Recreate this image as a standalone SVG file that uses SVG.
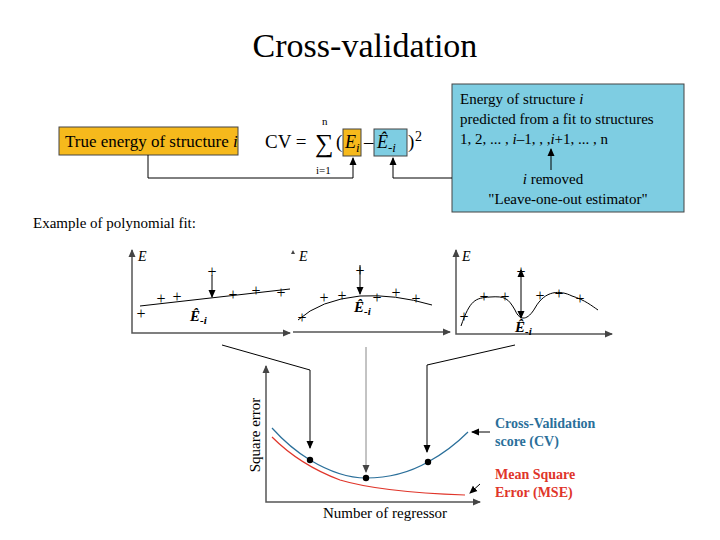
<svg xmlns="http://www.w3.org/2000/svg" width="720" height="540" viewBox="0 0 720 540">
<defs>
<marker id="ah" markerWidth="8" markerHeight="8" refX="7" refY="4" orient="auto-start-reverse" markerUnits="userSpaceOnUse"><path d="M0,0.5 L8,4 L0,7.5 z" fill="#000"/></marker>
<marker id="ag" markerWidth="8" markerHeight="8" refX="7" refY="4" orient="auto-start-reverse" markerUnits="userSpaceOnUse"><path d="M0,0.5 L8,4 L0,7.5 z" fill="#444"/></marker>
<style>
text{font-family:"Liberation Serif","DejaVu Serif",serif;fill:#000}
.ax{stroke:#555;stroke-width:1.5;fill:none}
.c{stroke:#000;stroke-width:1;fill:none}
.lbl{font-size:15px;font-style:italic;font-weight:bold}
.pl{fill:#222}
</style>
</defs>
<rect width="720" height="540" fill="#fff"/>
<text x="365" y="57" font-size="34" text-anchor="middle">Cross-validation</text>

<g id="true-energy">
<rect x="59" y="127" width="179" height="28" fill="#f6b91c" stroke="#444"/>
<text x="65" y="147" font-size="17">True energy of structure <tspan font-style="italic">i</tspan></text>
</g>
<g id="formula">
<text x="265" y="148" font-size="19">CV =</text>
<text x="315" y="152" font-size="26">∑</text>
<text x="322" y="125" font-size="11">n</text>
<text x="316" y="174" font-size="11">i=1</text>
<text x="336" y="148" font-size="19">(</text>
<rect x="343" y="129" width="18" height="27" fill="#f6b91c" stroke="#444"/>
<text x="345" y="148" font-size="18" font-style="italic">E<tspan font-size="13" dy="4">i</tspan></text>
<text x="364" y="148" font-size="19">–</text>
<rect x="374" y="129" width="33" height="27" fill="#7ecde2" stroke="#444"/>
<text x="377" y="148" font-size="18" font-style="italic">Ê<tspan font-size="13" dy="4">-i</tspan></text>
<text x="408" y="148" font-size="19">)</text>
<text x="415" y="141" font-size="14">2</text>
</g>
<g id="loo-box">
<rect x="452" y="84" width="232" height="128" fill="#7ecde2" stroke="#444"/>
<text x="460" y="104" font-size="15">Energy of structure <tspan font-style="italic">i</tspan></text>
<text x="460" y="124" font-size="15">predicted from a fit to structures</text>
<text x="460" y="144" font-size="15">1, 2, ... , <tspan font-style="italic">i</tspan>–1, , ,<tspan font-style="italic">i</tspan>+1, ... , n</text>
<line x1="551" y1="170" x2="551" y2="149" class="c" marker-end="url(#ah)"/>
<text x="553" y="184" font-size="15" text-anchor="middle"><tspan font-style="italic">i</tspan> removed</text>
<text x="568" y="204" font-size="15" text-anchor="middle">"Leave-one-out estimator"</text>
</g>
<g id="connectors">
<polyline points="148,155 148,178 353,178 353,158" class="c" stroke="#555" marker-end="url(#ah)"/>
<polyline points="452,178 393,178 393,158" class="c" stroke="#555" marker-end="url(#ah)"/>
<polyline points="222,345 310,370 310,448" class="c" marker-end="url(#ah)"/>
<line x1="366" y1="347" x2="366" y2="472" stroke="#888" stroke-width="1" marker-end="url(#ag)"/>
<polyline points="515,345 427,365 427,452" class="c" marker-end="url(#ah)"/>
<line x1="490" y1="432" x2="472" y2="432" class="c" marker-end="url(#ah)"/>
<line x1="480" y1="484" x2="470" y2="493" class="c" marker-end="url(#ah)"/>
</g>
<text x="33" y="228" font-size="15">Example of polynomial fit:</text>

<g id="panel1">
<polyline points="132,250 132,333 290,333" class="ax" marker-start="url(#ag)" marker-end="url(#ag)"/>
<text x="138" y="261" font-size="14" font-style="italic">E</text>
<line x1="140" y1="306" x2="290" y2="289" class="c"/>
<line x1="212" y1="275" x2="212" y2="297" class="c" marker-end="url(#ah)"/>
<g font-size="16" text-anchor="middle" class="pl"><text x="212" y="277">+</text><text x="141" y="319">+</text><text x="161" y="304">+</text><text x="177" y="302">+</text><text x="233" y="300">+</text><text x="256" y="296">+</text><text x="281" y="298">+</text></g>
<text x="190" y="321" class="lbl">Ê<tspan font-size="11" dy="3">-i</tspan></text>
</g>
<g id="panel2">
<polyline points="293,332 450,332" class="ax" marker-end="url(#ag)"/>
<path d="M293,250 l-2,4 h4 z" fill="#444"/>
<text x="299" y="261" font-size="14" font-style="italic">E</text>
<path d="M298,320 Q320,300 360,296 Q395,294 432,305" class="c"/>
<line x1="360" y1="265" x2="360" y2="294" class="c" marker-end="url(#ah)"/>
<g font-size="16" text-anchor="middle" class="pl"><text x="360" y="276">+</text><text x="302" y="323">+</text><text x="324" y="303">+</text><text x="342" y="301">+</text><text x="377" y="303">+</text><text x="396" y="298">+</text><text x="416" y="304">+</text></g>
<text x="354" y="312" class="lbl">Ê<tspan font-size="11" dy="3">-i</tspan></text>
</g>
<g id="panel3">
<polyline points="456,250 456,334 612,334" class="ax" marker-start="url(#ag)" marker-end="url(#ag)"/>
<text x="462" y="261" font-size="14" font-style="italic">E</text>
<path d="M461,326 C470,300 475,298 490,297 C505,296 508,298 515,310 C520,322 528,320 535,308 C545,290 560,290 572,296 C585,300 592,306 598,310" class="c"/>
<line x1="521" y1="270" x2="521" y2="318" class="c" marker-start="url(#ah)" marker-end="url(#ah)"/>
<g font-size="16" text-anchor="middle" class="pl"><text x="521" y="277">+</text><text x="464" y="322">+</text><text x="484" y="302">+</text><text x="505" y="302">+</text><text x="540" y="301">+</text><text x="559" y="299">+</text><text x="580" y="304">+</text></g>
<text x="515" y="332" class="lbl">Ê<tspan font-size="11" dy="3">-i</tspan></text>
</g>
<g id="error-plot">
<polyline points="266,366 266,502 480,502" class="ax" marker-start="url(#ag)" marker-end="url(#ag)"/>
<text transform="translate(260,435) rotate(-90)" font-size="15" text-anchor="middle">Square error</text>
<text x="385" y="518" font-size="15" text-anchor="middle">Number of regressor</text>
<path d="M272,428 Q290,448 310,460 Q340,478 366,478 Q400,478 428,462 Q450,450 468,432" fill="none" stroke="#2a6f9a" stroke-width="1.2"/>
<path d="M272,437 Q300,465 340,480 Q380,492 465,495" fill="none" stroke="#e0352a" stroke-width="1.2"/>
<circle cx="310" cy="460" r="3.2"/><circle cx="366" cy="478" r="3.2"/><circle cx="428" cy="462" r="3.2"/>
<g font-size="14" font-weight="bold"><text x="495" y="428" style="fill:#2a6f9a">Cross-Validation</text><text x="495" y="446" style="fill:#2a6f9a">score (CV)</text><text x="495" y="479" style="fill:#e0352a">Mean Square</text><text x="495" y="497" style="fill:#e0352a">Error (MSE)</text></g>
</g>
</svg>
